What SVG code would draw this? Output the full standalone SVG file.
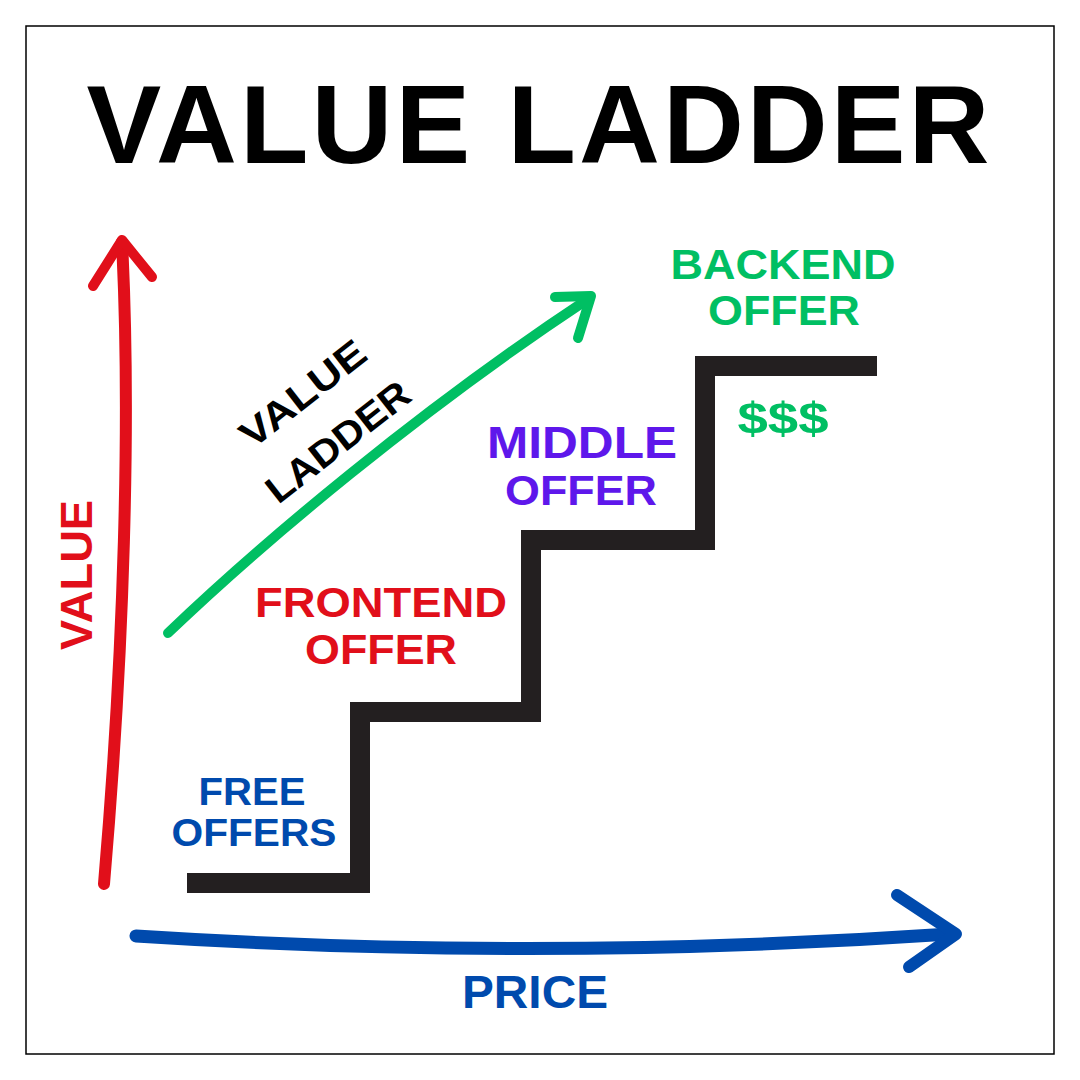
<svg xmlns="http://www.w3.org/2000/svg" width="1080" height="1080" viewBox="0 0 1080 1080">
<style>
  .t { font-family: "Liberation Sans", "DejaVu Sans", sans-serif; font-weight: bold; text-anchor: middle; }
  .blue { fill: #004aad; }
  .red { fill: #e10f1a; }
  .green { fill: #00bf63; }
  .purple { fill: #5e17eb; }
  .blk { fill: #000000; }
  .stroke { fill: none; stroke-linecap: round; stroke-linejoin: round; }
</style>
<rect x="0" y="0" width="1080" height="1080" fill="#ffffff"/>
<rect x="26" y="26" width="1028" height="1028" fill="none" stroke="#000000" stroke-width="1.5"/>

<g id="title">
  <text class="t blk" x="538" y="163" font-size="112" textLength="903" lengthAdjust="spacing">VALUE LADDER</text>
</g>

<g id="connectors">
  <!-- value axis (red) -->
  <path class="stroke" d="M104,884 C 124,650 131,420 122,242" stroke="#e10f1a" stroke-width="12"/>
  <path class="stroke" d="M93,286 L122,240 L152,277" stroke="#e10f1a" stroke-width="10"/>
  <!-- price axis (blue) -->
  <path class="stroke" d="M136,936 Q 540,962 950,934" stroke="#004aad" stroke-width="13"/>
  <path class="stroke" d="M897,895 L956,934 L909,967" stroke="#004aad" stroke-width="12"/>
  <!-- value ladder arrow (green) -->
  <path class="stroke" d="M168,633 C 262,543 420,410 588,299" stroke="#00bf63" stroke-width="10"/>
  <path class="stroke" d="M555,297 L591,296 L578,338" stroke="#00bf63" stroke-width="10"/>
</g>

<g id="stairs">
  <path d="M187,883 L360,883 L360,712 L531,712 L531,540 L705,540 L705,366 L877,366" fill="none" stroke="#231f20" stroke-width="20" stroke-linejoin="miter"/>
</g>

<g id="value-axis-label">
  <text class="t red" transform="translate(92,575) rotate(-90)" x="0" y="0" font-size="44" textLength="150" lengthAdjust="spacingAndGlyphs">VALUE</text>
</g>

<g id="price-label">
  <text class="t blue" x="535" y="1008" font-size="46" textLength="146" lengthAdjust="spacingAndGlyphs">PRICE</text>
</g>

<g id="ladder-label">
  <text class="t blk" transform="translate(311,404) rotate(-38)" x="0" y="0" font-size="38" textLength="149" lengthAdjust="spacingAndGlyphs">VALUE</text>
  <text class="t blk" transform="translate(346,452) rotate(-38)" x="0" y="0" font-size="38" textLength="172" lengthAdjust="spacingAndGlyphs">LADDER</text>
</g>

<g id="free-offers">
  <text class="t blue" x="252" y="805" font-size="38" textLength="107" lengthAdjust="spacingAndGlyphs">FREE</text>
  <text class="t blue" x="254" y="846" font-size="38" textLength="165" lengthAdjust="spacingAndGlyphs">OFFERS</text>
</g>

<g id="frontend-offer">
  <text class="t red" x="381" y="617" font-size="43" textLength="252" lengthAdjust="spacingAndGlyphs">FRONTEND</text>
  <text class="t red" x="381" y="664" font-size="43" textLength="152" lengthAdjust="spacingAndGlyphs">OFFER</text>
</g>

<g id="middle-offer">
  <text class="t purple" x="582" y="458" font-size="44" textLength="190" lengthAdjust="spacingAndGlyphs">MIDDLE</text>
  <text class="t purple" x="581" y="505" font-size="43" textLength="152" lengthAdjust="spacingAndGlyphs">OFFER</text>
</g>

<g id="backend-offer">
  <text class="t green" x="783" y="279" font-size="43" textLength="225" lengthAdjust="spacingAndGlyphs">BACKEND</text>
  <text class="t green" x="784" y="325" font-size="43" textLength="152" lengthAdjust="spacingAndGlyphs">OFFER</text>
  <text class="t green" x="783" y="434" font-size="44" textLength="91" lengthAdjust="spacingAndGlyphs">$$$</text>
</g>
</svg>
